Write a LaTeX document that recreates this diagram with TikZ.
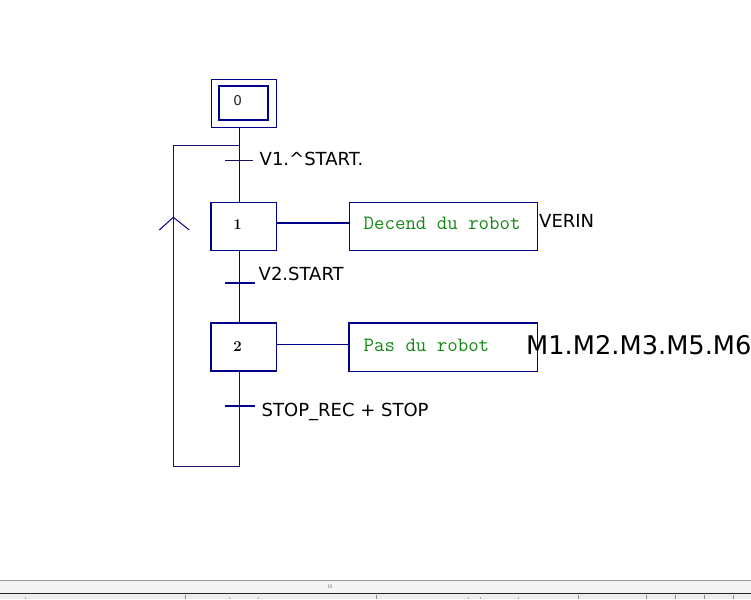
\documentclass[tikz,border=0pt]{standalone}
\usepackage{fontspec}
\newfontfamily\lblfont{DejaVu Sans}
\definecolor{navy}{RGB}{0,0,139}
\definecolor{loopc}{RGB}{35,10,105}
\definecolor{actgreen}{RGB}{20,135,20}
\begin{document}
\begin{tikzpicture}[x=1pt,y=-1pt,
  stepbox/.style={draw=navy, line width=1.1pt, minimum width=65pt, minimum height=48pt, inner sep=0pt},
  innerbox/.style={draw=navy, line width=2pt, minimum width=49.6pt, minimum height=34.3pt, inner sep=0pt},
  actbox/.style={draw=navy, line width=1.1pt, minimum width=188.4pt, minimum height=48pt, inner sep=0pt},
  edge/.style={draw=navy, line width=2.2pt},
  cond/.style={anchor=base west, inner sep=0pt, font=\lblfont\fontsize{18}{20}\selectfont},
  big/.style={anchor=base west, inner sep=0pt, font=\lblfont\fontsize{25.7}{28}\selectfont},
  acttext/.style={anchor=base west, inner sep=0pt, text=actgreen, font=\ttfamily\fontsize{20.3}{22}\selectfont},
  num/.style={anchor=base, inner sep=0pt, font=\bfseries\fontsize{15}{17}\selectfont},
  link/.style={draw=navy, line width=1pt},
  thicklink/.style={draw=navy, line width=2pt},
  bar/.style={draw=navy, line width=2pt},
  thinbar/.style={draw=loopc, line width=1pt},
  loopline/.style={draw=loopc, line width=1pt}]
\useasboundingbox (0,0) rectangle (751,599);
\fill[white] (0,0) rectangle (751,599);
% steps
\node[stepbox] (s0) at (244.2,103.3) {};
\node[innerbox] (s0i) at (243.5,103.2) {};
\node[num, font=\lblfont\fontsize{13.5}{15}\selectfont, text=black!85] (n0) at (237.7,105.7) {0};
\node[stepbox] (s1) at (244.2,226.3) {};
\draw[edge] (s1.south west) -- (s1.north west);
\node[num] (n1) at (237.7,229) {1};
\node[stepbox, minimum height=47.3pt] (s2) at (244.2,347.3) {};
\draw[edge] (s2.south west) -- (s2.north west) -- (s2.north east);
\node[num] (n2) at (237.5,351.7) {2};
% actions
\node[actbox] (a1) at (443.5,226.3) {};
\node[acttext] (a1t) at (363.5,229) {Decend du robot};
\node[actbox] (a2) at (443.5,347.3) {};
\draw[edge] (a2.south west) -- (a2.north west) -- (a2.north east);
\node[acttext] (a2t) at (363.5,351.3) {Pas du robot};
\node[cond] (verin) at (539,227.7) {VERIN};
\node[big] (mm) at (526,354) {M1.M2.M3.M5.M6};
% main line
\coordinate (vx) at (239.5,0);
\draw[link] (s0.south -| vx) -- (s1.north -| vx);
\draw[link] (s1.south -| vx) -- (s2.north -| vx);
% loop
\coordinate (lb) at (239.5,466);
\coordinate (lbl) at (173.3,466);
\coordinate (ltl) at (173.3,145.3);
\coordinate (ltr) at (239.5,145.3);
\draw[loopline] (s2.south -| vx) -- (lb) -- (lbl) -- (ltl) -- (ltr);
% chevron
\coordinate (cha) at (173.3,217.3);
\coordinate (chl) at (159.3,230);
\coordinate (chr) at (189.3,230);
\draw[link] (chl) -- (cha) -- (chr);
% action links
\draw[thicklink] (s1.east |- 0,222.7) -- (a1.west |- 0,222.7);
\draw[link] (s2.east |- 0,344.3) -- (a2.west |- 0,344.3);
% transitions
\coordinate (t1a) at (225,160.7); \coordinate (t1b) at (252.7,160.7);
\coordinate (t2a) at (225,282.7); \coordinate (t2b) at (255,282.7);
\coordinate (t3a) at (225,406); \coordinate (t3b) at (255,406);
\draw[thinbar] (t1a) -- (t1b);
\draw[bar] (t2a) -- (t2b);
\draw[bar] (t3a) -- (t3b);
\node[cond] (c1) at (259.5,165) {V1.\string^START.};
\node[cond] (c2) at (258.5,280) {V2.START};
\node[cond] (c3) at (261.5,416.7) {STOP\_REC + STOP};
% bottom GUI strip
\fill[white!96!black] (0,580.5) rectangle (751,593);
\draw[black!40, line width=1pt] (0,580.5) -- (751,580.5);
\fill[white!93!black] (0,594) rectangle (751,599);
\draw[black!85, line width=1.5pt] (0,593.5) -- (751,593.5);
\node[inner sep=0pt, text=black!50, font=\lblfont\fontsize{5}{6}\selectfont] (grip) at (330,586.5) {III};
\foreach \tx in {185,376,578.5,646.5,675,704,733} {\draw[black!45, line width=0.8pt] (\tx,595) -- (\tx,599);}
\foreach \tx in {25,229,258,468,480,518} {\draw[black!30, line width=0.6pt] (\tx,597) -- (\tx,599);}
\end{tikzpicture}
\end{document}
